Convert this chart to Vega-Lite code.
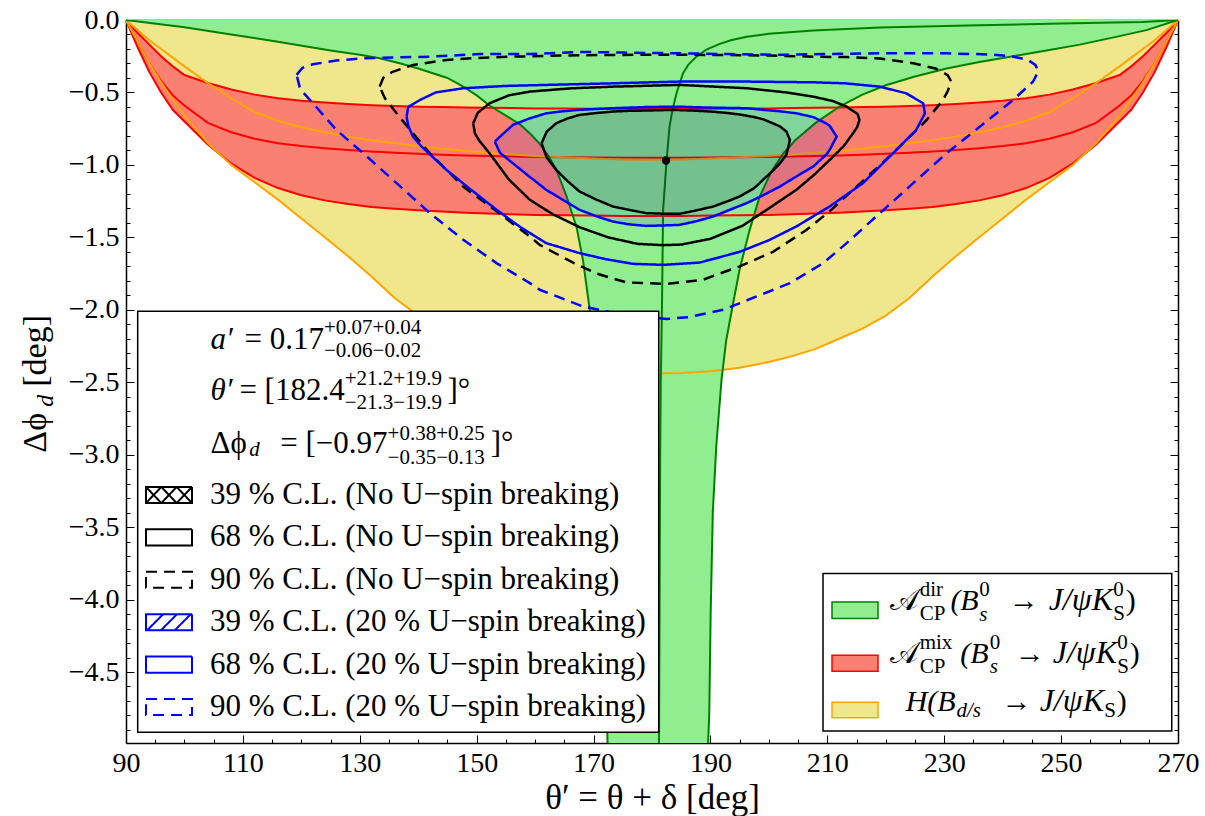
{
"$schema": "https://vega.github.io/schema/vega-lite/v6.json",
"width": 1052, "height": 723,
"autosize": {"type": "none"},
"padding": {"left": 126, "top": 20, "right": 27, "bottom": 73},
"background": "white",
"config": {
  "font": "Liberation Serif",
  "view": {"stroke": null},
  "axis": {"domainColor": "black", "domainWidth": 1.5, "tickColor": "black", "tickWidth": 1, "labelColor": "black", "grid": false, "zindex": 1, "labelFont": "Liberation Serif", "labelFontSize": 28, "labelFlush": false, "labelOverlap": false, "titleFontWeight": "normal", "titleColor": "black", "titleFont": "Liberation Serif"}
},
"resolve": {"axis": {"x": "independent", "y": "independent"}},
"datasets": {
  "one": [{}],
  "bands": [
    {"x":90,"ol":0,"ou":0,"hi":0,"mid":0,"lo":0},
    {"x":92,"ol":-0.15,"ou":-0.07,"hi":-0.09,"mid":-0.15,"lo":-0.19},
    {"x":94,"ol":-0.30,"ou":-0.14,"hi":-0.17,"mid":-0.30,"lo":-0.36},
    {"x":96,"ol":-0.43,"ou":-0.20,"hi":-0.25,"mid":-0.42,"lo":-0.50},
    {"x":98,"ol":-0.55,"ou":-0.26,"hi":-0.32,"mid":-0.52,"lo":-0.62},
    {"x":100,"ol":-0.66,"ou":-0.32,"hi":-0.38,"mid":-0.59,"lo":-0.70},
    {"x":104,"ol":-0.85,"ou":-0.435,"hi":-0.435,"mid":-0.71,"lo":-0.86},
    {"x":108,"ol":-1.00,"ou":-0.54,"hi":-0.48,"mid":-0.775,"lo":-0.99},
    {"x":112,"ol":-1.12,"ou":-0.635,"hi":-0.515,"mid":-0.82,"lo":-1.09},
    {"x":116,"ol":-1.24,"ou":-0.695,"hi":-0.54,"mid":-0.85,"lo":-1.16},
    {"x":120,"ol":-1.37,"ou":-0.74,"hi":-0.557,"mid":-0.87,"lo":-1.21},
    {"x":124,"ol":-1.50,"ou":-0.775,"hi":-0.57,"mid":-0.885,"lo":-1.245},
    {"x":128,"ol":-1.63,"ou":-0.805,"hi":-0.58,"mid":-0.898,"lo":-1.27},
    {"x":132,"ol":-1.77,"ou":-0.83,"hi":-0.588,"mid":-0.908,"lo":-1.29},
    {"x":136,"ol":-1.92,"ou":-0.85,"hi":-0.594,"mid":-0.916,"lo":-1.302},
    {"x":140,"ol":-2.04,"ou":-0.87,"hi":-0.598,"mid":-0.923,"lo":-1.313},
    {"x":144,"ol":-2.13,"ou":-0.888,"hi":-0.601,"mid":-0.93,"lo":-1.322},
    {"x":148,"ol":-2.20,"ou":-0.903,"hi":-0.604,"mid":-0.935,"lo":-1.33},
    {"x":152,"ol":-2.27,"ou":-0.916,"hi":-0.606,"mid":-0.939,"lo":-1.336},
    {"x":156,"ol":-2.32,"ou":-0.928,"hi":-0.608,"mid":-0.942,"lo":-1.341},
    {"x":160,"ol":-2.36,"ou":-0.938,"hi":-0.61,"mid":-0.945,"lo":-1.345},
    {"x":165,"ol":-2.40,"ou":-0.948,"hi":-0.611,"mid":-0.947,"lo":-1.348},
    {"x":170,"ol":-2.425,"ou":-0.956,"hi":-0.612,"mid":-0.949,"lo":-1.35},
    {"x":175,"ol":-2.437,"ou":-0.962,"hi":-0.612,"mid":-0.95,"lo":-1.352},
    {"x":180,"ol":-2.44,"ou":-0.965,"hi":-0.612,"mid":-0.95,"lo":-1.352},
    {"x":185,"ol":-2.437,"ou":-0.962,"hi":-0.612,"mid":-0.95,"lo":-1.352},
    {"x":190,"ol":-2.425,"ou":-0.956,"hi":-0.612,"mid":-0.949,"lo":-1.35},
    {"x":195,"ol":-2.40,"ou":-0.948,"hi":-0.611,"mid":-0.947,"lo":-1.348},
    {"x":200,"ol":-2.36,"ou":-0.938,"hi":-0.61,"mid":-0.945,"lo":-1.345},
    {"x":204,"ol":-2.32,"ou":-0.928,"hi":-0.608,"mid":-0.942,"lo":-1.341},
    {"x":208,"ol":-2.27,"ou":-0.916,"hi":-0.606,"mid":-0.939,"lo":-1.336},
    {"x":212,"ol":-2.20,"ou":-0.903,"hi":-0.604,"mid":-0.935,"lo":-1.33},
    {"x":216,"ol":-2.13,"ou":-0.888,"hi":-0.601,"mid":-0.93,"lo":-1.322},
    {"x":220,"ol":-2.04,"ou":-0.87,"hi":-0.598,"mid":-0.923,"lo":-1.313},
    {"x":224,"ol":-1.92,"ou":-0.85,"hi":-0.594,"mid":-0.916,"lo":-1.302},
    {"x":228,"ol":-1.77,"ou":-0.83,"hi":-0.588,"mid":-0.908,"lo":-1.29},
    {"x":232,"ol":-1.63,"ou":-0.805,"hi":-0.58,"mid":-0.898,"lo":-1.27},
    {"x":236,"ol":-1.50,"ou":-0.775,"hi":-0.57,"mid":-0.885,"lo":-1.245},
    {"x":240,"ol":-1.37,"ou":-0.74,"hi":-0.557,"mid":-0.87,"lo":-1.21},
    {"x":244,"ol":-1.24,"ou":-0.695,"hi":-0.54,"mid":-0.85,"lo":-1.16},
    {"x":248,"ol":-1.12,"ou":-0.635,"hi":-0.515,"mid":-0.82,"lo":-1.09},
    {"x":252,"ol":-1.00,"ou":-0.54,"hi":-0.48,"mid":-0.775,"lo":-0.99},
    {"x":256,"ol":-0.85,"ou":-0.435,"hi":-0.435,"mid":-0.71,"lo":-0.86},
    {"x":260,"ol":-0.66,"ou":-0.32,"hi":-0.38,"mid":-0.59,"lo":-0.70},
    {"x":262,"ol":-0.55,"ou":-0.26,"hi":-0.32,"mid":-0.52,"lo":-0.62},
    {"x":264,"ol":-0.43,"ou":-0.20,"hi":-0.25,"mid":-0.42,"lo":-0.50},
    {"x":266,"ol":-0.30,"ou":-0.14,"hi":-0.17,"mid":-0.30,"lo":-0.36},
    {"x":268,"ol":-0.15,"ou":-0.07,"hi":-0.09,"mid":-0.15,"lo":-0.19},
    {"x":270,"ol":0,"ou":0,"hi":0,"mid":0,"lo":0}
  ],
  "green": [
    {"x":90,"y":0},{"x":100,"y":-0.05},{"x":108,"y":-0.10},{"x":116,"y":-0.15},{"x":125,"y":-0.21},{"x":130,"y":-0.24},{"x":133.4,"y":-0.264},{"x":137,"y":-0.30},{"x":140,"y":-0.335},{"x":145,"y":-0.40},{"x":147.7,"y":-0.46},{"x":150,"y":-0.52},{"x":152.2,"y":-0.59},{"x":155,"y":-0.66},{"x":157.4,"y":-0.72},{"x":159.3,"y":-0.79},{"x":160.8,"y":-0.855},{"x":162.3,"y":-0.94},{"x":163.6,"y":-1.03},{"x":165.4,"y":-1.22},{"x":167.1,"y":-1.43},{"x":168.2,"y":-1.66},{"x":169.35,"y":-2.0},{"x":170.2,"y":-2.5},{"x":170.9,"y":-3.0},{"x":171.5,"y":-3.6},{"x":172.0,"y":-4.3},{"x":172.4,"y":-5.0},
    {"x":189.6,"y":-5.0},{"x":189.8,"y":-4.78},{"x":190.04,"y":-4.09},{"x":190.4,"y":-3.4},{"x":191.0,"y":-2.94},{"x":191.9,"y":-2.48},{"x":192.7,"y":-2.21},{"x":193.9,"y":-1.95},{"x":195.0,"y":-1.72},{"x":196.7,"y":-1.45},{"x":198.4,"y":-1.22},{"x":200.5,"y":-1.04},{"x":202.5,"y":-0.92},{"x":204.5,"y":-0.83},{"x":208,"y":-0.71},{"x":212,"y":-0.6},{"x":216,"y":-0.515},{"x":220,"y":-0.45},{"x":225,"y":-0.39},{"x":230.4,"y":-0.335},{"x":236,"y":-0.29},{"x":241.8,"y":-0.25},{"x":247.5,"y":-0.21},{"x":253.2,"y":-0.17},{"x":259,"y":-0.12},{"x":264.6,"y":-0.07},{"x":270,"y":0}
  ],
  "gc": [
    {"x":270,"y":0},{"x":264,"y":-0.014},{"x":259,"y":-0.018},{"x":250,"y":-0.025},{"x":236,"y":-0.036},{"x":219,"y":-0.052},{"x":207.6,"y":-0.072},{"x":200,"y":-0.095},{"x":196.2,"y":-0.115},{"x":193.5,"y":-0.14},{"x":191.6,"y":-0.165},{"x":189.3,"y":-0.205},{"x":187.6,"y":-0.253},{"x":186.2,"y":-0.31},{"x":185.3,"y":-0.368},{"x":184.2,"y":-0.506},{"x":183.5,"y":-0.62},{"x":183,"y":-0.736},{"x":182.5,"y":-0.966},{"x":181.9,"y":-1.31},{"x":181.7,"y":-2.0},{"x":181.5,"y":-2.5},{"x":181.4,"y":-3.0},{"x":181.3,"y":-4.0},{"x":181.2,"y":-5.0}
  ],
  "b39f": [
    {"x":161.1,"hi":-0.851,"lo":-0.851},{"x":162,"hi":-0.77,"lo":-0.95},{"x":163.6,"hi":-0.713,"lo":-1.034},{"x":165.5,"hi":-0.68,"lo":-1.11},{"x":167.6,"hi":-0.655,"lo":-1.184},{"x":170.5,"hi":-0.642,"lo":-1.24},{"x":173.3,"hi":-0.632,"lo":-1.287},{"x":176,"hi":-0.627,"lo":-1.31},{"x":179,"hi":-0.625,"lo":-1.333},{"x":182,"hi":-0.622,"lo":-1.337},{"x":184.7,"hi":-0.622,"lo":-1.338},{"x":187.5,"hi":-0.626,"lo":-1.315},{"x":190.5,"hi":-0.633,"lo":-1.287},{"x":193,"hi":-0.642,"lo":-1.25},{"x":195,"hi":-0.652,"lo":-1.218},{"x":197.5,"hi":-0.67,"lo":-1.16},{"x":199,"hi":-0.685,"lo":-1.103},{"x":200.7,"hi":-0.713,"lo":-1.04},{"x":201.9,"hi":-0.735,"lo":-0.989},{"x":203,"hi":-0.77,"lo":-0.93},{"x":203.6,"hi":-0.828,"lo":-0.828}
  ],
  "u39f": [
    {"x":153.1,"hi":-0.839,"lo":-0.839},{"x":154,"hi":-0.805,"lo":-0.917},{"x":156.2,"hi":-0.724,"lo":-0.989},{"x":159,"hi":-0.68,"lo":-1.08},{"x":161.9,"hi":-0.644,"lo":-1.172},{"x":164.7,"hi":-0.63,"lo":-1.24},{"x":167.6,"hi":-0.62,"lo":-1.31},{"x":170.5,"hi":-0.614,"lo":-1.355},{"x":173.3,"hi":-0.609,"lo":-1.391},{"x":176,"hi":-0.605,"lo":-1.41},{"x":179,"hi":-0.601,"lo":-1.421},{"x":182,"hi":-0.599,"lo":-1.418},{"x":184.7,"hi":-0.598,"lo":-1.414},{"x":187.5,"hi":-0.602,"lo":-1.39},{"x":190.5,"hi":-0.605,"lo":-1.356},{"x":193.3,"hi":-0.607,"lo":-1.31},{"x":196.2,"hi":-0.609,"lo":-1.264},{"x":199,"hi":-0.62,"lo":-1.21},{"x":201.9,"hi":-0.63,"lo":-1.149},{"x":204.7,"hi":-0.644,"lo":-1.08},{"x":207.6,"hi":-0.67,"lo":-1.011},{"x":209.8,"hi":-0.713,"lo":-0.93},{"x":210.4,"hi":-0.73,"lo":-0.897},{"x":211.6,"hi":-0.805,"lo":-0.805}
  ],
  "ct": [
    {"c":"B39","x":161.1,"y":-0.851},{"c":"B39","x":162,"y":-0.77},{"c":"B39","x":163.6,"y":-0.713},{"c":"B39","x":165.5,"y":-0.68},{"c":"B39","x":167.6,"y":-0.655},{"c":"B39","x":170.5,"y":-0.642},{"c":"B39","x":173.3,"y":-0.632},{"c":"B39","x":176,"y":-0.627},{"c":"B39","x":179,"y":-0.625},{"c":"B39","x":182,"y":-0.622},{"c":"B39","x":184.7,"y":-0.622},{"c":"B39","x":187.5,"y":-0.626},{"c":"B39","x":190.5,"y":-0.633},{"c":"B39","x":193,"y":-0.642},{"c":"B39","x":195,"y":-0.652},{"c":"B39","x":197.5,"y":-0.67},{"c":"B39","x":199,"y":-0.685},{"c":"B39","x":200.7,"y":-0.713},{"c":"B39","x":201.9,"y":-0.735},{"c":"B39","x":203,"y":-0.77},{"c":"B39","x":203.6,"y":-0.828},{"c":"B39","x":203,"y":-0.93},{"c":"B39","x":201.9,"y":-0.989},{"c":"B39","x":200.7,"y":-1.04},{"c":"B39","x":199,"y":-1.103},{"c":"B39","x":197.5,"y":-1.16},{"c":"B39","x":195,"y":-1.218},{"c":"B39","x":193,"y":-1.25},{"c":"B39","x":190.5,"y":-1.287},{"c":"B39","x":187.5,"y":-1.315},{"c":"B39","x":184.7,"y":-1.338},{"c":"B39","x":182,"y":-1.337},{"c":"B39","x":179,"y":-1.333},{"c":"B39","x":176,"y":-1.31},{"c":"B39","x":173.3,"y":-1.287},{"c":"B39","x":170.5,"y":-1.24},{"c":"B39","x":167.6,"y":-1.184},{"c":"B39","x":165.5,"y":-1.11},{"c":"B39","x":163.6,"y":-1.034},{"c":"B39","x":162,"y":-0.95},{"c":"B39","x":161.1,"y":-0.851},
    {"c":"B68","x":149.4,"y":-0.713},{"c":"B68","x":150.2,"y":-0.64},{"c":"B68","x":152.2,"y":-0.575},{"c":"B68","x":155.5,"y":-0.52},{"c":"B68","x":159.1,"y":-0.494},{"c":"B68","x":166,"y":-0.472},{"c":"B68","x":173.3,"y":-0.46},{"c":"B68","x":184.7,"y":-0.448},{"c":"B68","x":196.2,"y":-0.471},{"c":"B68","x":203,"y":-0.5},{"c":"B68","x":207.6,"y":-0.529},{"c":"B68","x":211,"y":-0.56},{"c":"B68","x":213.3,"y":-0.598},{"c":"B68","x":215.2,"y":-0.65},{"c":"B68","x":215.5,"y":-0.69},{"c":"B68","x":215.1,"y":-0.74},{"c":"B68","x":214.4,"y":-0.782},{"c":"B68","x":212.8,"y":-0.87},{"c":"B68","x":210.4,"y":-0.966},{"c":"B68","x":207.7,"y":-1.07},{"c":"B68","x":204.7,"y":-1.172},{"c":"B68","x":200,"y":-1.3},{"c":"B68","x":195.5,"y":-1.42},{"c":"B68","x":190,"y":-1.51},{"c":"B68","x":185,"y":-1.55},{"c":"B68","x":181.9,"y":-1.554},{"c":"B68","x":177.5,"y":-1.545},{"c":"B68","x":172.5,"y":-1.5},{"c":"B68","x":167.6,"y":-1.43},{"c":"B68","x":163,"y":-1.34},{"c":"B68","x":159.1,"y":-1.241},{"c":"B68","x":155.5,"y":-1.1},{"c":"B68","x":152.2,"y":-0.92},{"c":"B68","x":150.4,"y":-0.83},{"c":"B68","x":149.7,"y":-0.782},{"c":"B68","x":149.4,"y":-0.713},
    {"c":"B90","x":133.4,"y":-0.46},{"c":"B90","x":134.0,"y":-0.40},{"c":"B90","x":135.5,"y":-0.36},{"c":"B90","x":139.1,"y":-0.31},{"c":"B90","x":144.8,"y":-0.276},{"c":"B90","x":150,"y":-0.262},{"c":"B90","x":156.2,"y":-0.253},{"c":"B90","x":165,"y":-0.245},{"c":"B90","x":173.3,"y":-0.241},{"c":"B90","x":182,"y":-0.24},{"c":"B90","x":190.5,"y":-0.241},{"c":"B90","x":200,"y":-0.245},{"c":"B90","x":207.6,"y":-0.253},{"c":"B90","x":213.3,"y":-0.256},{"c":"B90","x":219,"y":-0.266},{"c":"B90","x":224.7,"y":-0.299},{"c":"B90","x":228.5,"y":-0.335},{"c":"B90","x":230.6,"y":-0.38},{"c":"B90","x":231.2,"y":-0.425},{"c":"B90","x":230.6,"y":-0.49},{"c":"B90","x":229.8,"y":-0.552},{"c":"B90","x":227,"y":-0.69},{"c":"B90","x":221.8,"y":-0.897},{"c":"B90","x":216.1,"y":-1.11},{"c":"B90","x":210.4,"y":-1.32},{"c":"B90","x":206.4,"y":-1.45},{"c":"B90","x":200.7,"y":-1.6},{"c":"B90","x":195,"y":-1.7},{"c":"B90","x":188.7,"y":-1.793},{"c":"B90","x":182.5,"y":-1.822},{"c":"B90","x":175.6,"y":-1.811},{"c":"B90","x":170.5,"y":-1.75},{"c":"B90","x":166.5,"y":-1.675},{"c":"B90","x":160.8,"y":-1.552},{"c":"B90","x":159.1,"y":-1.494},{"c":"B90","x":153.4,"y":-1.32},{"c":"B90","x":147.7,"y":-1.15},{"c":"B90","x":142,"y":-0.92},{"c":"B90","x":139.1,"y":-0.782},{"c":"B90","x":136.3,"y":-0.644},{"c":"B90","x":134.3,"y":-0.54},{"c":"B90","x":133.4,"y":-0.46},
    {"c":"U39","x":153.1,"y":-0.839},{"c":"U39","x":154,"y":-0.805},{"c":"U39","x":156.2,"y":-0.724},{"c":"U39","x":159,"y":-0.68},{"c":"U39","x":161.9,"y":-0.644},{"c":"U39","x":164.7,"y":-0.63},{"c":"U39","x":167.6,"y":-0.62},{"c":"U39","x":170.5,"y":-0.614},{"c":"U39","x":173.3,"y":-0.609},{"c":"U39","x":176,"y":-0.605},{"c":"U39","x":179,"y":-0.601},{"c":"U39","x":182,"y":-0.599},{"c":"U39","x":184.7,"y":-0.598},{"c":"U39","x":187.5,"y":-0.602},{"c":"U39","x":190.5,"y":-0.605},{"c":"U39","x":193.3,"y":-0.607},{"c":"U39","x":196.2,"y":-0.609},{"c":"U39","x":199,"y":-0.62},{"c":"U39","x":201.9,"y":-0.63},{"c":"U39","x":204.7,"y":-0.644},{"c":"U39","x":207.6,"y":-0.67},{"c":"U39","x":209.8,"y":-0.713},{"c":"U39","x":210.4,"y":-0.73},{"c":"U39","x":211.6,"y":-0.805},{"c":"U39","x":210.4,"y":-0.897},{"c":"U39","x":209.8,"y":-0.93},{"c":"U39","x":207.6,"y":-1.011},{"c":"U39","x":204.7,"y":-1.08},{"c":"U39","x":201.9,"y":-1.149},{"c":"U39","x":199,"y":-1.21},{"c":"U39","x":196.2,"y":-1.264},{"c":"U39","x":193.3,"y":-1.31},{"c":"U39","x":190.5,"y":-1.356},{"c":"U39","x":187.5,"y":-1.39},{"c":"U39","x":184.7,"y":-1.414},{"c":"U39","x":182,"y":-1.418},{"c":"U39","x":179,"y":-1.421},{"c":"U39","x":176,"y":-1.41},{"c":"U39","x":173.3,"y":-1.391},{"c":"U39","x":170.5,"y":-1.355},{"c":"U39","x":167.6,"y":-1.31},{"c":"U39","x":164.7,"y":-1.24},{"c":"U39","x":161.9,"y":-1.172},{"c":"U39","x":159,"y":-1.08},{"c":"U39","x":156.2,"y":-0.989},{"c":"U39","x":154,"y":-0.917},{"c":"U39","x":153.1,"y":-0.839},
    {"c":"U68","x":138.0,"y":-0.667},{"c":"U68","x":138.3,"y":-0.6},{"c":"U68","x":140.3,"y":-0.552},{"c":"U68","x":143,"y":-0.5},{"c":"U68","x":147.7,"y":-0.471},{"c":"U68","x":155,"y":-0.455},{"c":"U68","x":161.9,"y":-0.448},{"c":"U68","x":173.3,"y":-0.437},{"c":"U68","x":184.7,"y":-0.425},{"c":"U68","x":196.2,"y":-0.425},{"c":"U68","x":207.6,"y":-0.43},{"c":"U68","x":213,"y":-0.437},{"c":"U68","x":219,"y":-0.46},{"c":"U68","x":223.5,"y":-0.506},{"c":"U68","x":226.4,"y":-0.575},{"c":"U68","x":226.7,"y":-0.644},{"c":"U68","x":225.2,"y":-0.759},{"c":"U68","x":221.8,"y":-0.897},{"c":"U68","x":216.1,"y":-1.126},{"c":"U68","x":210.4,"y":-1.287},{"c":"U68","x":204.7,"y":-1.425},{"c":"U68","x":200,"y":-1.52},{"c":"U68","x":195,"y":-1.6},{"c":"U68","x":188.2,"y":-1.674},{"c":"U68","x":181.9,"y":-1.69},{"c":"U68","x":176.75,"y":-1.683},{"c":"U68","x":172,"y":-1.65},{"c":"U68","x":167.6,"y":-1.609},{"c":"U68","x":161.9,"y":-1.54},{"c":"U68","x":157.5,"y":-1.43},{"c":"U68","x":153.4,"y":-1.31},{"c":"U68","x":149,"y":-1.17},{"c":"U68","x":144.8,"y":-1.034},{"c":"U68","x":140.5,"y":-0.87},{"c":"U68","x":139.1,"y":-0.805},{"c":"U68","x":138.3,"y":-0.73},{"c":"U68","x":138.0,"y":-0.667},
    {"c":"U90","x":119.2,"y":-0.379},{"c":"U90","x":120.2,"y":-0.33},{"c":"U90","x":122,"y":-0.305},{"c":"U90","x":126,"y":-0.28},{"c":"U90","x":130.6,"y":-0.264},{"c":"U90","x":136,"y":-0.258},{"c":"U90","x":142,"y":-0.253},{"c":"U90","x":150.5,"y":-0.235},{"c":"U90","x":159.1,"y":-0.235},{"c":"U90","x":167.6,"y":-0.22},{"c":"U90","x":175,"y":-0.225},{"c":"U90","x":184.7,"y":-0.23},{"c":"U90","x":193,"y":-0.235},{"c":"U90","x":201.9,"y":-0.24},{"c":"U90","x":210,"y":-0.235},{"c":"U90","x":219,"y":-0.23},{"c":"U90","x":230.4,"y":-0.23},{"c":"U90","x":238,"y":-0.238},{"c":"U90","x":241.8,"y":-0.253},{"c":"U90","x":244.3,"y":-0.275},{"c":"U90","x":245.6,"y":-0.31},{"c":"U90","x":246.1,"y":-0.356},{"c":"U90","x":245.2,"y":-0.425},{"c":"U90","x":241.8,"y":-0.552},{"c":"U90","x":236.1,"y":-0.736},{"c":"U90","x":230.4,"y":-0.92},{"c":"U90","x":224.7,"y":-1.126},{"c":"U90","x":219,"y":-1.333},{"c":"U90","x":213.3,"y":-1.54},{"c":"U90","x":209.3,"y":-1.678},{"c":"U90","x":203.6,"y":-1.816},{"c":"U90","x":197.9,"y":-1.908},{"c":"U90","x":192.2,"y":-2.0},{"c":"U90","x":186.4,"y":-2.05},{"c":"U90","x":182.5,"y":-2.064},{"c":"U90","x":175,"y":-2.035},{"c":"U90","x":168.2,"y":-1.977},{"c":"U90","x":164.5,"y":-1.92},{"c":"U90","x":160.8,"y":-1.862},{"c":"U90","x":159.1,"y":-1.816},{"c":"U90","x":153.4,"y":-1.678},{"c":"U90","x":147.7,"y":-1.517},{"c":"U90","x":142,"y":-1.333},{"c":"U90","x":136.3,"y":-1.126},{"c":"U90","x":130.6,"y":-0.92},{"c":"U90","x":126,"y":-0.759},{"c":"U90","x":122,"y":-0.575},{"c":"U90","x":120.3,"y":-0.5},{"c":"U90","x":119.7,"y":-0.46},{"c":"U90","x":119.2,"y":-0.379}
  ]
},
"layer": [
  {"data": {"name": "bands"}, "mark": {"type": "area", "color": "#f0e68c"},
   "encoding": {
     "x": {"field": "x", "type": "quantitative", "scale": {"domain": [90, 270], "nice": false, "zero": false},
           "axis": {"orient": "bottom", "values": [90,110,130,150,170,190,210,230,250,270], "format": "d", "tickSize": -8, "labelPadding": 14, "domain": true, "title": "θ′ = θ + δ [deg]", "titleFontSize": 35, "titlePadding": 3}},
     "y": {"field": "ol", "type": "quantitative", "scale": {"domain": [-4.99, 0], "nice": false, "zero": false},
           "axis": {"orient": "left", "values": [0,-0.5,-1,-1.5,-2,-2.5,-3,-3.5,-4,-4.5], "format": ".1f", "tickSize": -8, "labelPadding": 15, "domain": true, "title": null}},
     "y2": {"datum": 0}}},
  {"data": {"name": "bands"}, "mark": {"type": "area", "color": "#fa8072"},
   "encoding": {
     "x": {"field": "x", "type": "quantitative", "axis": {"orient": "top", "values": [90,110,130,150,170,190,210,230,250,270], "tickSize": -8, "labels": false, "domain": true, "title": null}},
     "y": {"field": "lo", "type": "quantitative", "axis": {"orient": "right", "values": [0,-0.5,-1,-1.5,-2,-2.5,-3,-3.5,-4,-4.5], "tickSize": -8, "labels": false, "domain": true, "title": null}},
     "y2": {"field": "hi"}}},
  {"data": {"name": "green"}, "mark": {"type": "area", "color": "#90ee90", "clip": true},
   "encoding": {
     "x": {"field": "x", "type": "quantitative", "axis": {"orient": "bottom", "values": [95,100,105,115,120,125,135,140,145,155,160,165,175,180,185,195,200,205,215,220,225,235,240,245,255,260,265], "tickSize": -4, "labels": false, "domain": false, "title": null}},
     "y": {"field": "y", "type": "quantitative", "axis": {"orient": "left", "values": [-0.1,-0.2,-0.3,-0.4,-0.6,-0.7,-0.8,-0.9,-1.1,-1.2,-1.3,-1.4,-1.6,-1.7,-1.8,-1.9,-2.1,-2.2,-2.3,-2.4,-2.6,-2.7,-2.8,-2.9,-3.1,-3.2,-3.3,-3.4,-3.6,-3.7,-3.8,-3.9,-4.1,-4.2,-4.3,-4.4,-4.6,-4.7,-4.8,-4.9], "tickSize": -4, "labels": false, "domain": false, "title": null}},
     "y2": {"datum": 0}}},
  {"data": {"name": "bands"}, "mark": {"type": "line", "color": "#ff0000", "strokeWidth": 2},
   "encoding": {"x": {"field": "x", "type": "quantitative", "axis": null}, "y": {"field": "hi", "type": "quantitative", "axis": null}}},
  {"data": {"name": "bands"}, "mark": {"type": "line", "color": "#ff0000", "strokeWidth": 2},
   "encoding": {"x": {"field": "x", "type": "quantitative", "axis": null}, "y": {"field": "mid", "type": "quantitative", "axis": null}}},
  {"data": {"name": "bands"}, "mark": {"type": "line", "color": "#ff0000", "strokeWidth": 2},
   "encoding": {"x": {"field": "x", "type": "quantitative", "axis": null}, "y": {"field": "lo", "type": "quantitative", "axis": null}}},
  {"data": {"name": "bands"}, "mark": {"type": "line", "color": "#ffa500", "strokeWidth": 2},
   "encoding": {"x": {"field": "x", "type": "quantitative", "axis": null}, "y": {"field": "ou", "type": "quantitative", "axis": null}}},
  {"data": {"name": "bands"}, "mark": {"type": "line", "color": "#ffa500", "strokeWidth": 2},
   "encoding": {"x": {"field": "x", "type": "quantitative", "axis": null}, "y": {"field": "ol", "type": "quantitative", "axis": null}}},
  {"data": {"name": "green"}, "mark": {"type": "line", "color": "#008000", "strokeWidth": 2, "clip": true},
   "encoding": {
     "x": {"field": "x", "type": "quantitative", "axis": {"orient": "top", "values": [95,100,105,115,120,125,135,140,145,155,160,165,175,180,185,195,200,205,215,220,225,235,240,245,255,260,265], "tickSize": -4, "labels": false, "domain": false, "title": null}},
     "y": {"field": "y", "type": "quantitative", "axis": {"orient": "right", "values": [-0.1,-0.2,-0.3,-0.4,-0.6,-0.7,-0.8,-0.9,-1.1,-1.2,-1.3,-1.4,-1.6,-1.7,-1.8,-1.9,-2.1,-2.2,-2.3,-2.4,-2.6,-2.7,-2.8,-2.9,-3.1,-3.2,-3.3,-3.4,-3.6,-3.7,-3.8,-3.9,-4.1,-4.2,-4.3,-4.4,-4.6,-4.7,-4.8,-4.9], "tickSize": -4, "labels": false, "domain": false, "title": null}}}},
  {"data": {"name": "gc"}, "mark": {"type": "line", "color": "#008000", "strokeWidth": 2, "clip": true},
   "encoding": {"x": {"field": "x", "type": "quantitative", "axis": null}, "y": {"field": "y", "type": "quantitative", "axis": null}}},
  {"data": {"name": "u39f"}, "mark": {"type": "area", "color": "#0000ff", "fillOpacity": 0.1},
   "encoding": {"x": {"field": "x", "type": "quantitative", "axis": null}, "y": {"field": "lo", "type": "quantitative", "axis": null}, "y2": {"field": "hi"}}},
  {"data": {"name": "b39f"}, "mark": {"type": "area", "color": "#000000", "fillOpacity": 0.09},
   "encoding": {"x": {"field": "x", "type": "quantitative", "axis": null}, "y": {"field": "lo", "type": "quantitative", "axis": null}, "y2": {"field": "hi"}}},
  {"data": {"name": "ct"}, "mark": {"type": "line", "strokeWidth": 2.5},
   "encoding": {
     "x": {"field": "x", "type": "quantitative", "axis": null},
     "y": {"field": "y", "type": "quantitative", "axis": null},
     "order": {"value": null},
     "stroke": {"field": "c", "type": "nominal",
       "scale": {"domain": ["B39","B68","B90","U39","U68","U90"], "range": ["#000000","#000000","#000000","#0000ff","#0000ff","#0000ff"]},
       "legend": {"orient": "none", "legendX": 19, "legendY": 451, "title": null, "padding": 0, "symbolType": "M-1,-0.35H1V0.35H-1Z", "symbolSize": 2116, "symbolStrokeWidth": 2, "symbolFillColor": "white", "labelFont": "Liberation Serif", "labelFontSize": 31, "labelColor": "black", "labelOffset": 17, "labelLimit": 1000, "rowPadding": 3.4,
         "labelExpr": "{'B39':'39 % C.L. (No U−spin breaking)','B68':'68 % C.L. (No U−spin breaking)','B90':'90 % C.L. (No U−spin breaking)','U39':'39 % C.L. (20 % U−spin breaking)','U68':'68 % C.L. (20 % U−spin breaking)','U90':'90 % C.L. (20 % U−spin breaking)'}[datum.value]",
         "encode": {"symbols": {"update": {"shape": {"signal": "datum.value === 'B39' ? 'M-1,-0.35H1V0.35H-1Z M-1,-0.35L-0.3333,0.35 M-1,0.35L-0.3333,-0.35 M-0.3333,-0.35L0.3333,0.35 M-0.3333,0.35L0.3333,-0.35 M0.3333,-0.35L1,0.35 M0.3333,0.35L1,-0.35' : datum.value === 'U39' ? 'M-1,-0.35H1V0.35H-1Z M-0.95,0.35L-0.25,-0.35 M-0.35,0.35L0.35,-0.35 M0.25,0.35L0.95,-0.35' : 'M-1,-0.35H1V0.35H-1Z'"}}}}}},
     "strokeDash": {"field": "c", "type": "nominal",
       "scale": {"domain": ["B39","B68","B90","U39","U68","U90"], "range": [[1,0],[1,0],[11,7],[1,0],[1,0],[11,7]]},
       "legend": {"orient": "none", "legendX": 19, "legendY": 451, "title": null, "padding": 0, "symbolType": "M-1,-0.35H1V0.35H-1Z", "symbolSize": 2116, "symbolStrokeWidth": 2, "symbolFillColor": "white", "labelFont": "Liberation Serif", "labelFontSize": 31, "labelColor": "black", "labelOffset": 17, "labelLimit": 1000, "rowPadding": 3.4,
         "labelExpr": "{'B39':'39 % C.L. (No U−spin breaking)','B68':'68 % C.L. (No U−spin breaking)','B90':'90 % C.L. (No U−spin breaking)','U39':'39 % C.L. (20 % U−spin breaking)','U68':'68 % C.L. (20 % U−spin breaking)','U90':'90 % C.L. (20 % U−spin breaking)'}[datum.value]",
         "encode": {"symbols": {"update": {"shape": {"signal": "datum.value === 'B39' ? 'M-1,-0.35H1V0.35H-1Z M-1,-0.35L-0.3333,0.35 M-1,0.35L-0.3333,-0.35 M-0.3333,-0.35L0.3333,0.35 M-0.3333,0.35L0.3333,-0.35 M0.3333,-0.35L1,0.35 M0.3333,0.35L1,-0.35' : datum.value === 'U39' ? 'M-1,-0.35H1V0.35H-1Z M-0.95,0.35L-0.25,-0.35 M-0.35,0.35L0.35,-0.35 M0.25,0.35L0.95,-0.35' : 'M-1,-0.35H1V0.35H-1Z'"}}}}}}}},
  {"data": {"name": "one"}, "mark": {"type": "point", "filled": true, "color": "black", "size": 70, "opacity": 1},
   "encoding": {"x": {"datum": 182.4, "axis": null}, "y": {"datum": -0.97, "axis": null}}},

  {"data": {"name": "one"}, "mark": {"type": "rect", "fill": "white", "stroke": "black", "strokeWidth": 1.5},
   "encoding": {"x": {"datum": 92.0, "axis": null}, "x2": {"datum": 181.15}, "y": {"datum": -2.01, "axis": null}, "y2": {"datum": -4.915}}},
  {"data": {"name": "one"}, "mark": {"type": "rect", "fill": "white", "stroke": "black", "strokeWidth": 1.5},
   "encoding": {"x": {"datum": 209.26, "axis": null}, "x2": {"datum": 268.93}, "y": {"datum": -3.821, "axis": null}, "y2": {"datum": -4.908}}},
  {"data": {"name": "one"}, "mark": {"type": "rect", "fill": "#90ee90", "stroke": "#008000", "strokeWidth": 1.5},
   "encoding": {"x": {"datum": 210.8, "axis": null}, "x2": {"datum": 218.67}, "y": {"datum": -4.016, "axis": null}, "y2": {"datum": -4.131}}},
  {"data": {"name": "one"}, "mark": {"type": "rect", "fill": "#fa8072", "stroke": "#ff0000", "strokeWidth": 1.5},
   "encoding": {"x": {"datum": 210.8, "axis": null}, "x2": {"datum": 218.67}, "y": {"datum": -4.384, "axis": null}, "y2": {"datum": -4.494}}},
  {"data": {"name": "one"}, "mark": {"type": "rect", "fill": "#f0e68c", "stroke": "#ffa500", "strokeWidth": 1.5},
   "encoding": {"x": {"datum": 210.8, "axis": null}, "x2": {"datum": 218.67}, "y": {"datum": -4.708, "axis": null}, "y2": {"datum": -4.816}}},

  {"data": {"name": "one"}, "mark": {"type": "text", "text": "𝒜", "align": "right", "baseline": "alphabetic", "fontSize": 30}, "encoding": {"x": {"datum": 225.51, "axis": null}, "y": {"datum": -4.072, "axis": null}}},
  {"data": {"name": "one"}, "mark": {"type": "text", "text": "dir", "align": "left", "baseline": "alphabetic", "fontSize": 21}, "encoding": {"x": {"datum": 225.8, "axis": null}, "y": {"datum": -3.975, "axis": null}}},
  {"data": {"name": "one"}, "mark": {"type": "text", "text": "CP", "align": "left", "baseline": "alphabetic", "fontSize": 21}, "encoding": {"x": {"datum": 225.8, "axis": null}, "y": {"datum": -4.14, "axis": null}}},
  {"data": {"name": "one"}, "mark": {"type": "text", "text": "(B", "align": "right", "baseline": "alphabetic", "fontSize": 30, "fontStyle": "italic"}, "encoding": {"x": {"datum": 235.9, "axis": null}, "y": {"datum": -4.072, "axis": null}}},
  {"data": {"name": "one"}, "mark": {"type": "text", "text": "0", "align": "left", "baseline": "alphabetic", "fontSize": 21}, "encoding": {"x": {"datum": 235.99, "axis": null}, "y": {"datum": -3.975, "axis": null}}},
  {"data": {"name": "one"}, "mark": {"type": "text", "text": "s", "align": "left", "baseline": "alphabetic", "fontSize": 21, "fontStyle": "italic"}, "encoding": {"x": {"datum": 235.99, "axis": null}, "y": {"datum": -4.145, "axis": null}}},
  {"data": {"name": "one"}, "mark": {"type": "text", "text": "→", "align": "left", "baseline": "alphabetic", "fontSize": 30}, "encoding": {"x": {"datum": 241.03, "axis": null}, "y": {"datum": -4.072, "axis": null}}},
  {"data": {"name": "one"}, "mark": {"type": "text", "text": "J/ψK", "align": "left", "baseline": "alphabetic", "fontSize": 32, "fontStyle": "italic"}, "encoding": {"x": {"datum": 247.87, "axis": null}, "y": {"datum": -4.072, "axis": null}}},
  {"data": {"name": "one"}, "mark": {"type": "text", "text": "0", "align": "left", "baseline": "alphabetic", "fontSize": 21}, "encoding": {"x": {"datum": 258.9, "axis": null}, "y": {"datum": -3.975, "axis": null}}},
  {"data": {"name": "one"}, "mark": {"type": "text", "text": "S", "align": "left", "baseline": "alphabetic", "fontSize": 21}, "encoding": {"x": {"datum": 258.9, "axis": null}, "y": {"datum": -4.14, "axis": null}}},
  {"data": {"name": "one"}, "mark": {"type": "text", "text": ")", "align": "left", "baseline": "alphabetic", "fontSize": 30}, "encoding": {"x": {"datum": 261.05, "axis": null}, "y": {"datum": -4.072, "axis": null}}},

  {"data": {"name": "one"}, "mark": {"type": "text", "text": "𝒜", "align": "right", "baseline": "alphabetic", "fontSize": 30}, "encoding": {"x": {"datum": 225.51, "axis": null}, "y": {"datum": -4.437, "axis": null}}},
  {"data": {"name": "one"}, "mark": {"type": "text", "text": "mix", "align": "left", "baseline": "alphabetic", "fontSize": 21}, "encoding": {"x": {"datum": 225.8, "axis": null}, "y": {"datum": -4.34, "axis": null}}},
  {"data": {"name": "one"}, "mark": {"type": "text", "text": "CP", "align": "left", "baseline": "alphabetic", "fontSize": 21}, "encoding": {"x": {"datum": 225.8, "axis": null}, "y": {"datum": -4.505, "axis": null}}},
  {"data": {"name": "one"}, "mark": {"type": "text", "text": "(B", "align": "right", "baseline": "alphabetic", "fontSize": 30, "fontStyle": "italic"}, "encoding": {"x": {"datum": 237.61, "axis": null}, "y": {"datum": -4.437, "axis": null}}},
  {"data": {"name": "one"}, "mark": {"type": "text", "text": "0", "align": "left", "baseline": "alphabetic", "fontSize": 21}, "encoding": {"x": {"datum": 237.78, "axis": null}, "y": {"datum": -4.34, "axis": null}}},
  {"data": {"name": "one"}, "mark": {"type": "text", "text": "s", "align": "left", "baseline": "alphabetic", "fontSize": 21, "fontStyle": "italic"}, "encoding": {"x": {"datum": 237.78, "axis": null}, "y": {"datum": -4.51, "axis": null}}},
  {"data": {"name": "one"}, "mark": {"type": "text", "text": "→", "align": "left", "baseline": "alphabetic", "fontSize": 30}, "encoding": {"x": {"datum": 242.06, "axis": null}, "y": {"datum": -4.437, "axis": null}}},
  {"data": {"name": "one"}, "mark": {"type": "text", "text": "J/ψK", "align": "left", "baseline": "alphabetic", "fontSize": 32, "fontStyle": "italic"}, "encoding": {"x": {"datum": 248.56, "axis": null}, "y": {"datum": -4.437, "axis": null}}},
  {"data": {"name": "one"}, "mark": {"type": "text", "text": "0", "align": "left", "baseline": "alphabetic", "fontSize": 21}, "encoding": {"x": {"datum": 259.6, "axis": null}, "y": {"datum": -4.34, "axis": null}}},
  {"data": {"name": "one"}, "mark": {"type": "text", "text": "S", "align": "left", "baseline": "alphabetic", "fontSize": 21}, "encoding": {"x": {"datum": 259.6, "axis": null}, "y": {"datum": -4.505, "axis": null}}},
  {"data": {"name": "one"}, "mark": {"type": "text", "text": ")", "align": "left", "baseline": "alphabetic", "fontSize": 30}, "encoding": {"x": {"datum": 261.75, "axis": null}, "y": {"datum": -4.437, "axis": null}}},

  {"data": {"name": "one"}, "mark": {"type": "text", "text": "H(B", "align": "right", "baseline": "alphabetic", "fontSize": 30, "fontStyle": "italic"}, "encoding": {"x": {"datum": 231.96, "axis": null}, "y": {"datum": -4.77, "axis": null}}},
  {"data": {"name": "one"}, "mark": {"type": "text", "text": "d/s", "align": "left", "baseline": "alphabetic", "fontSize": 21, "fontStyle": "italic"}, "encoding": {"x": {"datum": 232.08, "axis": null}, "y": {"datum": -4.81, "axis": null}}},
  {"data": {"name": "one"}, "mark": {"type": "text", "text": "→", "align": "left", "baseline": "alphabetic", "fontSize": 30}, "encoding": {"x": {"datum": 239.78, "axis": null}, "y": {"datum": -4.77, "axis": null}}},
  {"data": {"name": "one"}, "mark": {"type": "text", "text": "J/ψK", "align": "left", "baseline": "alphabetic", "fontSize": 32, "fontStyle": "italic"}, "encoding": {"x": {"datum": 246.33, "axis": null}, "y": {"datum": -4.77, "axis": null}}},
  {"data": {"name": "one"}, "mark": {"type": "text", "text": "S", "align": "left", "baseline": "alphabetic", "fontSize": 21}, "encoding": {"x": {"datum": 257.36, "axis": null}, "y": {"datum": -4.81, "axis": null}}},
  {"data": {"name": "one"}, "mark": {"type": "text", "text": ")", "align": "left", "baseline": "alphabetic", "fontSize": 30}, "encoding": {"x": {"datum": 259.5, "axis": null}, "y": {"datum": -4.77, "axis": null}}},

  {"data": {"name": "one"}, "mark": {"type": "text", "text": "a′", "align": "left", "baseline": "alphabetic", "fontSize": 31, "fontStyle": "italic"}, "encoding": {"x": {"datum": 104.46, "axis": null}, "y": {"datum": -2.271, "axis": null}}},
  {"data": {"name": "one"}, "mark": {"type": "text", "text": "= 0.17", "align": "right", "baseline": "alphabetic", "fontSize": 31}, "encoding": {"x": {"datum": 123.88, "axis": null}, "y": {"datum": -2.271, "axis": null}}},
  {"data": {"name": "one"}, "mark": {"type": "text", "text": "+0.07+0.04", "align": "left", "baseline": "alphabetic", "fontSize": 21}, "encoding": {"x": {"datum": 123.88, "axis": null}, "y": {"datum": -2.165, "axis": null}}},
  {"data": {"name": "one"}, "mark": {"type": "text", "text": "−0.06−0.02", "align": "left", "baseline": "alphabetic", "fontSize": 21}, "encoding": {"x": {"datum": 123.88, "axis": null}, "y": {"datum": -2.326, "axis": null}}},
  {"data": {"name": "one"}, "mark": {"type": "text", "text": "θ′", "align": "left", "baseline": "alphabetic", "fontSize": 31, "fontStyle": "italic"}, "encoding": {"x": {"datum": 104.46, "axis": null}, "y": {"datum": -2.621, "axis": null}}},
  {"data": {"name": "one"}, "mark": {"type": "text", "text": "= [182.4", "align": "right", "baseline": "alphabetic", "fontSize": 31}, "encoding": {"x": {"datum": 127.42, "axis": null}, "y": {"datum": -2.621, "axis": null}}},
  {"data": {"name": "one"}, "mark": {"type": "text", "text": "+21.2+19.9", "align": "left", "baseline": "alphabetic", "fontSize": 21}, "encoding": {"x": {"datum": 127.42, "axis": null}, "y": {"datum": -2.522, "axis": null}}},
  {"data": {"name": "one"}, "mark": {"type": "text", "text": "−21.3−19.9", "align": "left", "baseline": "alphabetic", "fontSize": 21}, "encoding": {"x": {"datum": 127.42, "axis": null}, "y": {"datum": -2.686, "axis": null}}},
  {"data": {"name": "one"}, "mark": {"type": "text", "text": "]°", "align": "left", "baseline": "alphabetic", "fontSize": 31}, "encoding": {"x": {"datum": 145.0, "axis": null}, "y": {"datum": -2.621, "axis": null}}},
  {"data": {"name": "one"}, "mark": {"type": "text", "text": "Δϕ", "align": "left", "baseline": "alphabetic", "fontSize": 31}, "encoding": {"x": {"datum": 104.46, "axis": null}, "y": {"datum": -2.988, "axis": null}}},
  {"data": {"name": "one"}, "mark": {"type": "text", "text": "d", "align": "left", "baseline": "alphabetic", "fontSize": 21, "fontStyle": "italic"}, "encoding": {"x": {"datum": 111.1, "axis": null}, "y": {"datum": -3.012, "axis": null}}},
  {"data": {"name": "one"}, "mark": {"type": "text", "text": "= [−0.97", "align": "right", "baseline": "alphabetic", "fontSize": 31}, "encoding": {"x": {"datum": 134.76, "axis": null}, "y": {"datum": -2.988, "axis": null}}},
  {"data": {"name": "one"}, "mark": {"type": "text", "text": "+0.38+0.25", "align": "left", "baseline": "alphabetic", "fontSize": 21}, "encoding": {"x": {"datum": 134.76, "axis": null}, "y": {"datum": -2.898, "axis": null}}},
  {"data": {"name": "one"}, "mark": {"type": "text", "text": "−0.35−0.13", "align": "left", "baseline": "alphabetic", "fontSize": 21}, "encoding": {"x": {"datum": 134.76, "axis": null}, "y": {"datum": -3.062, "axis": null}}},
  {"data": {"name": "one"}, "mark": {"type": "text", "text": "]°", "align": "left", "baseline": "alphabetic", "fontSize": 31}, "encoding": {"x": {"datum": 152.4, "axis": null}, "y": {"datum": -2.988, "axis": null}}},

  {"data": {"name": "one"}, "mark": {"type": "text", "text": "Δϕ", "align": "left", "baseline": "alphabetic", "fontSize": 34, "angle": 270}, "encoding": {"x": {"datum": 76.26, "axis": null}, "y": {"datum": -2.986, "axis": null}}},
  {"data": {"name": "one"}, "mark": {"type": "text", "text": "d", "align": "left", "baseline": "alphabetic", "fontSize": 24, "fontStyle": "italic", "angle": 270}, "encoding": {"x": {"datum": 77.46, "axis": null}, "y": {"datum": -2.669, "axis": null}}},
  {"data": {"name": "one"}, "mark": {"type": "text", "text": "[deg]", "align": "left", "baseline": "alphabetic", "fontSize": 34, "angle": 270}, "encoding": {"x": {"datum": 76.26, "axis": null}, "y": {"datum": -2.531, "axis": null}}}
]
}
